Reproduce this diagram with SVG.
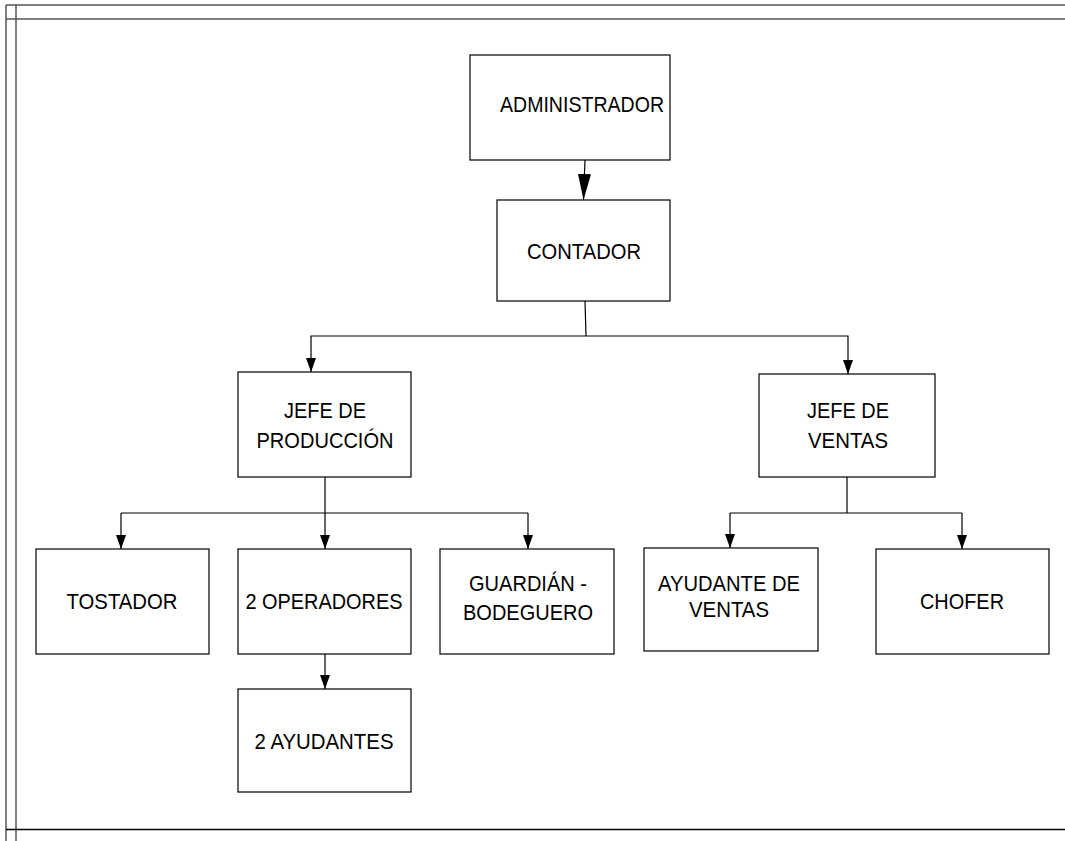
<svg xmlns="http://www.w3.org/2000/svg" width="1065" height="841" viewBox="0 0 1065 841">
<style>
.box{fill:#fff;stroke:#000;stroke-width:1.2}
.t{font-family:"Liberation Sans",Arial,sans-serif;font-size:22px;fill:#000;text-anchor:middle}
.c{fill:none;stroke:#000;stroke-width:1.2}
.f{fill:none;stroke:#555;stroke-width:1.5}
</style>
<defs>
<marker id="a" viewBox="0 0 14 10" markerWidth="14" markerHeight="10" refX="14" refY="5" orient="auto" markerUnits="userSpaceOnUse"><path d="M0,0 L14,5 L0,10 z" fill="#000"/></marker>
<marker id="b" viewBox="0 0 26 13" markerWidth="26" markerHeight="13" refX="26" refY="6.5" orient="auto" markerUnits="userSpaceOnUse"><path d="M0,0 L26,6.5 L0,13 z" fill="#000"/></marker>
</defs>
<rect width="1065" height="841" fill="#fff"/>
<g id="frame">
<path class="f" d="M6,5 H1065 M6,19 H1065 M6,5 V841 M16,5 V841"/>
<path d="M6,829.5 H1065" stroke="#000" stroke-width="1.5"/>
</g>
<g id="connectors">
<path class="c" d="M585,160 L583.5,200" marker-end="url(#b)"/>
<path class="c" d="M585,301 L586,336 L311,336 L311,372" stroke-width="1.6" marker-end="url(#a)"/>
<path class="c" d="M586,336 L848,336 L848,374" marker-end="url(#a)"/>
<path class="c" d="M325,477 L325,549" marker-end="url(#a)"/>
<path class="c" d="M121,513 L528,513"/>
<path class="c" d="M121,513 L121,549" marker-end="url(#a)"/>
<path class="c" d="M528,513 L528,549" marker-end="url(#a)"/>
<path class="c" d="M847,477 L847,513" stroke="#666"/>
<path class="c" d="M730,513 L962,513"/>
<path class="c" d="M730,513 L730,548" marker-end="url(#a)"/>
<path class="c" d="M962,513 L962,549" marker-end="url(#a)" stroke="#666"/>
<path class="c" d="M325,654 L325,689" marker-end="url(#a)"/>
</g>
<g id="administrador"><rect class="box" x="470" y="55" width="200" height="105"/><text class="t" x="582" y="112" textLength="164" lengthAdjust="spacingAndGlyphs">ADMINISTRADOR</text></g>
<g id="contador"><rect class="box" x="497" y="200" width="173" height="101"/><text class="t" x="584" y="259" textLength="114" lengthAdjust="spacingAndGlyphs">CONTADOR</text></g>
<g id="jefe-produccion"><rect class="box" x="238" y="372" width="173" height="105"/><text class="t" x="325" y="418" textLength="82" lengthAdjust="spacingAndGlyphs">JEFE DE</text><text class="t" x="325" y="448" textLength="137" lengthAdjust="spacingAndGlyphs">PRODUCCIÓN</text></g>
<g id="jefe-ventas"><rect class="box" x="759" y="374" width="176" height="103"/><text class="t" x="848" y="418" textLength="82" lengthAdjust="spacingAndGlyphs">JEFE DE</text><text class="t" x="848" y="448" textLength="80" lengthAdjust="spacingAndGlyphs">VENTAS</text></g>
<g id="tostador"><rect class="box" x="36" y="549" width="173" height="105"/><text class="t" x="122" y="609" textLength="111" lengthAdjust="spacingAndGlyphs">TOSTADOR</text></g>
<g id="operadores"><rect class="box" x="238" y="549" width="173" height="105"/><text class="t" x="324" y="609" textLength="157" lengthAdjust="spacingAndGlyphs">2 OPERADORES</text></g>
<g id="guardian"><rect class="box" x="440" y="549" width="174" height="105"/><text class="t" x="528" y="591" textLength="118" lengthAdjust="spacingAndGlyphs">GUARDIÁN -</text><text class="t" x="528" y="620" textLength="130" lengthAdjust="spacingAndGlyphs">BODEGUERO</text></g>
<g id="ayudante-ventas"><rect class="box" x="644" y="548" width="174" height="103"/><text class="t" x="729" y="591" textLength="142" lengthAdjust="spacingAndGlyphs">AYUDANTE DE</text><text class="t" x="729" y="617" textLength="80" lengthAdjust="spacingAndGlyphs">VENTAS</text></g>
<g id="chofer"><rect class="box" x="876" y="549" width="173" height="105"/><text class="t" x="962" y="609" textLength="84" lengthAdjust="spacingAndGlyphs">CHOFER</text></g>
<g id="ayudantes"><rect class="box" x="238" y="689" width="173" height="103"/><text class="t" x="324" y="749" textLength="139" lengthAdjust="spacingAndGlyphs">2 AYUDANTES</text></g>
</svg>
